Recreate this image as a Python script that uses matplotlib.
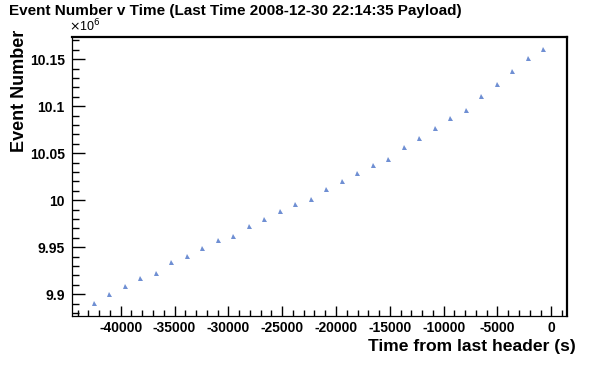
import matplotlib
matplotlib.use("Agg")
import matplotlib.pyplot as plt
from matplotlib.ticker import MultipleLocator, FuncFormatter

plt.rcParams['font.family'] = ['Liberation Sans', 'DejaVu Sans']

title = "Event Number v Time (Last Time 2008-12-30 22:14:35 Payload)"
x_label = "Time from last header (s)"
y_label = "Event Number"

time_s = [-42509, -41087, -39600, -38206, -36719, -35297, -33838, -32444, -30957, -29563,
          -28076, -26682, -25195, -23801, -22314, -20920, -19433, -18039, -16552, -15158,
          -13671, -12277, -10790, -9396, -7909, -6515, -5028, -3634, -2147, -753]
event_num = [9890700, 9900300, 9908800, 9917300, 9922700, 9934400, 9940700, 9949300, 9957800, 9962000,
             9972700, 9980100, 9988600, 9996100, 10001400, 10012000, 10020500, 10029000, 10037500, 10043900,
             10056700, 10066300, 10076900, 10087600, 10096100, 10111000, 10123700, 10137600, 10151400, 10161000]

W, H = 596, 372
fig = plt.figure(figsize=(W / 100, H / 100), dpi=100)
ax = fig.add_axes([71.7 / W, 1 - 315.7 / H, (566.7 - 71.7) / W, (315.7 - 36.7) / H])

ax.plot(time_s, event_num, linestyle='none', marker='^', markersize=3.6,
        markerfacecolor='#6f8fd3', markeredgewidth=0)

ax.set_xlim(-44554, 1431)
ax.set_ylim(9877200, 10174000)

ax.xaxis.set_major_locator(MultipleLocator(5000))
ax.xaxis.set_minor_locator(MultipleLocator(1000))
ax.yaxis.set_major_locator(MultipleLocator(50000))
ax.yaxis.set_minor_locator(MultipleLocator(10000))
ax.yaxis.set_major_formatter(FuncFormatter(lambda v, p: f"{v / 1e6:g}"))
ax.xaxis.set_major_formatter(FuncFormatter(lambda v, p: f"{v:g}"))

ax.tick_params(which='both', direction='in', top=False, right=False, width=1, color='black')
ax.tick_params(axis='y', which='major', length=9.5, pad=5)
ax.tick_params(axis='y', which='minor', length=5)
ax.tick_params(axis='x', which='major', length=7, pad=4)
ax.tick_params(axis='x', which='minor', length=4)
for lab in ax.get_xticklabels() + ax.get_yticklabels():
    lab.set_fontweight('bold')
    lab.set_fontsize(10)

for s in ['left', 'bottom']:
    ax.spines[s].set_linewidth(0.9)
for s in ['top', 'right']:
    ax.spines[s].set_linewidth(1.6)

fig.text(9 / W, 1 - 10.5 / H, title, fontsize=11, fontweight='bold', ha='left', va='center')
fig.text(69 / W, 1 - 31 / H, r'$\times$10$^{6}$', fontsize=9, ha='left', va='baseline')
fig.text(20 / W, 1 - 30 / H, y_label, fontsize=13, fontweight='bold', rotation=90, ha='center', va='top')
fig.text(576 / W, 1 - 346 / H, x_label, fontsize=12.6, fontweight='bold', ha='right', va='center')

fig.savefig('out.png', dpi=100)
